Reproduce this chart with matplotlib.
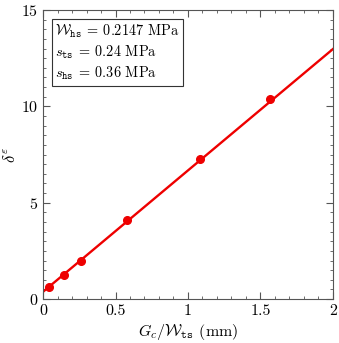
import numpy as np
import matplotlib
matplotlib.use('Agg')
import matplotlib.pyplot as plt
from matplotlib.ticker import MultipleLocator

plt.rcParams['font.family'] = 'serif'
plt.rcParams['font.serif'] = ['cmr10']
plt.rcParams['mathtext.fontset'] = 'cm'
plt.rcParams['axes.formatter.use_mathtext'] = True

# data points
gc_w = [0.041, 0.147, 0.26, 0.582, 1.08, 1.564]
delta = [0.61, 1.26, 2.0, 4.09, 7.27, 10.38]
# fitted line
fit_x = [0.0, 2.0]
fit_y = [0.38, 12.97]

fig = plt.figure(figsize=(3.39, 3.43), dpi=100)
ax = fig.add_axes([0.127, 0.128, 0.855, 0.843])

ax.plot(fit_x, fit_y, color='#ee0000', lw=1.7)
ax.plot(gc_w, delta, 'o', color='#ee0000', ms=5.5)

ax.set_xlim(0, 2)
ax.set_ylim(0, 15)
ax.xaxis.set_major_locator(MultipleLocator(0.5))
ax.xaxis.set_minor_locator(MultipleLocator(0.1))
ax.yaxis.set_major_locator(MultipleLocator(5))
ax.yaxis.set_minor_locator(MultipleLocator(0.5))
ax.set_xticks([0, 0.5, 1, 1.5, 2], ['0', '0.5', '1', '1.5', '2'])
ax.tick_params(which='both', direction='in', top=True, right=True, labelsize=11.5, color='#555555')
ax.tick_params(which='major', length=5)
ax.tick_params(which='minor', length=2.5)
for s in ax.spines.values():
    s.set_color('#555555')

ax.set_xlabel(r'$G_c/\mathcal{W}_{\mathtt{ts}}$ (mm)', fontsize=11.5, labelpad=3)
ax.set_ylabel(r'$\delta^{\varepsilon}$', fontsize=12, labelpad=2)

txt = (r'$\mathcal{W}_{\mathtt{hs}}\:=\:0.2147$ MPa' + '\n'
       r'$s_{\mathtt{ts}}\:=\:0.24$ MPa' + '\n'
       r'$s_{\mathtt{hs}}\:=\:0.36$ MPa')
ax.text(0.042, 0.957, txt, transform=ax.transAxes, fontsize=10.3, va='top', ha='left',
        linespacing=1.3,
        bbox=dict(boxstyle='square,pad=0.25', fc='white', ec='#333333', lw=0.8))

fig.savefig('out.png', dpi=100)
